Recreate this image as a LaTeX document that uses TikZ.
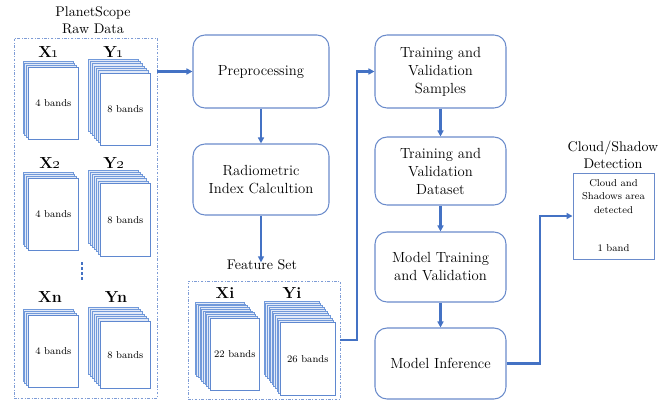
\documentclass[tikz,border=0pt]{standalone}
\usetikzlibrary{arrows.meta,calc}

\definecolor{flowblue}{HTML}{4472C4}
\definecolor{sheetblue}{HTML}{7199DA}
\definecolor{sheetfill}{HTML}{E2EAF8}
\definecolor{frontblue}{HTML}{5F88D0}
\definecolor{boxblue}{HTML}{6A8BCB}
\definecolor{dashblue}{HTML}{7E9CD6}

% A stack of sheets: name, back-x, back-y, front-x, front-y, steps, width, height, text
\newcommand\sheetstack[9]{%
  \pgfmathtruncatemacro\laststep{#6-1}%
  \foreach \k in {0,...,\laststep}{%
    \pgfmathsetmacro\shx{#2+\k*(#4-#2)/#6}%
    \pgfmathsetmacro\shy{#3+\k*(#5-#3)/#6}%
    \draw[backsheet] (\shx,\shy) rectangle ++(#7,#8);
  }%
  \node[frontsheet, dims={#7}{#8}, anchor=north west] (#1) at (#4,#5) {#9};
}

\begin{document}
\begin{tikzpicture}[x=0.75pt, y=-0.75pt,
  dims/.style 2 args={minimum width=#1*0.75pt, minimum height=#2*0.75pt},
  procbox/.style={draw=boxblue, line width=0.8pt, rounded corners=9pt, fill=white,
    align=center, inner sep=0pt, font=\fontsize{11}{13.5}\selectfont},
  groupbox/.style={draw=dashblue, line width=0.7pt, inner sep=0pt,
    dash pattern=on 2pt off 1.2pt on 0.6pt off 1.2pt},
  flow/.style={draw=flowblue, line width=1.6pt, -{Triangle[length=4.5pt,width=4.5pt]}},
  backsheet/.style={draw=sheetblue, line width=0.4pt, fill=sheetfill},
  frontsheet/.style={draw=frontblue, line width=0.5pt, fill=white, inner sep=0pt,
    font=\fontsize{7.5}{9}\selectfont},
  grouptitle/.style={align=center, inner sep=1pt, font=\fontsize{10.5}{13}\selectfont},
  setlabel/.style={inner sep=0pt, font=\bfseries\fontsize{12}{14}\selectfont}]

\useasboundingbox (0,0) rectangle (672,404);

% ---- raw data group ----
\node[groupbox, dims={143}{360}] (raw) at (85.5,218) {};
\node[grouptitle] (rawtitle) at (93,20.5) {PlanetScope\\Raw Data};

\node[setlabel] (lx1) at (49,52) {X\oldstylenums{1}};
\node[setlabel] (ly1) at (114,52) {Y\oldstylenums{1}};
\sheetstack{xone}{23}{61}{28}{67}{3}{50}{72}{4 bands}
\sheetstack{yone}{88}{59}{100}{73}{6}{50}{72}{8 bands}

\node[setlabel] (lx2) at (50,163) {X\oldstylenums{2}};
\node[setlabel] (ly2) at (114,163) {Y\oldstylenums{2}};
\sheetstack{xtwo}{23}{172}{28}{178}{3}{50}{72}{4 bands}
\sheetstack{ytwo}{88}{170}{100}{183}{6}{50}{73}{8 bands}

% vertical ellipsis
\draw[flowblue, line width=2pt, dash pattern=on 2.2pt off 1.6pt] (82,262) -- (82,281);

\node[setlabel] (lxn) at (50,297) {Xn};
\node[setlabel] (lyn) at (116,297) {Yn};
\sheetstack{xn}{23}{309}{28}{315}{3}{50}{72}{4 bands}
\sheetstack{yn}{88}{307}{100}{321}{6}{50}{67}{8 bands}

% ---- processing chain ----
\node[procbox, dims={136}{73}] (pre) at (261,71.5) {Preprocessing};
\node[procbox, dims={136}{71}] (radio) at (261,179.5) {Radiometric\\Index Calcultion};

% ---- feature set group ----
\node[grouptitle] (fstitle) at (262,265) {Feature Set};
\node[groupbox, dims={152}{118}] (feat) at (264,340) {};
\node[setlabel] (lxi) at (225,293) {Xi};
\node[setlabel] (lyi) at (292,293) {Yi};
\sheetstack{xi}{195}{302}{210}{318}{9}{49}{72}{22 bands}
\sheetstack{yi}{264}{301}{280}{322}{10}{55}{73}{26 bands}

% ---- model chain ----
\node[procbox, dims={131}{73}] (samp) at (440.5,71.5) {Training and\\Validation\\Samples};
\node[procbox, dims={131}{68}] (dset) at (440.5,171) {Training and\\Validation\\Dataset};
\node[procbox, dims={131}{70}] (train) at (440.5,267) {Model Training\\and Validation};
\node[procbox, dims={131}{71}] (infer) at (440.5,363.5) {Model Inference};

% ---- output ----
\node[grouptitle] (cloudtitle) at (613,154.5) {Cloud/Shadow\\Detection};
\node[draw=boxblue, line width=0.7pt, fill=white, dims={81}{86}] (cloud) at (613.5,216) {};
\node[align=center, inner sep=0pt, font=\fontsize{7.5}{10}\selectfont] (cloudtxt) at (613.5,196.5)
  {Cloud and\\Shadows area\\detected};
\node[inner sep=0pt, font=\fontsize{7.5}{9}\selectfont] (cloudband) at (613.5,248) {1 band};

% ---- connectors ----
\coordinate (bendA) at (357,340);
\coordinate (bendB) at (540,363.5);
\draw[flow] (raw.east |- pre.west) -- (pre.west);
\draw[flow] (pre.south) -- (radio.north);
\draw[flow] (radio.south) -- ($(radio.south |- fstitle.north)+(0,-3pt)$);
\draw[flow] (feat.east) -- (bendA) |- (samp.west);
\draw[flow] (samp.south) -- (dset.north);
\draw[flow] (dset.south) -- (train.north);
\draw[flow] (train.south) -- (infer.north);
\draw[flow] (infer.east) -- (bendB) |- (cloud.west);

\end{tikzpicture}
\end{document}
